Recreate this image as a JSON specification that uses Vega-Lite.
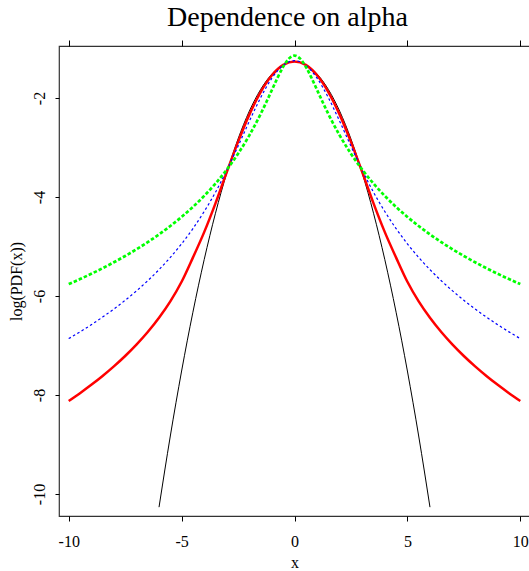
{
 "$schema": "https://vega.github.io/schema/vega-lite/v6.json",
 "width": 471, "height": 470,
 "autosize": {"type": "none"},
 "padding": {"left": 59, "top": 46, "right": 0, "bottom": 55},
 "background": "white",
 "config": {"view": {"stroke": "#333", "strokeWidth": 1.2}, "font": "Liberation Serif"},
 "title": {"text": "Dependence on alpha", "font": "Liberation Serif", "fontSize": 28, "fontWeight": "normal", "color": "black", "anchor": "middle", "dx": -7, "dy": 28, "offset": 14, "baseline": "alphabetic"},
 "data": {"values": [
  {"alpha":"2","x":-6,"y":-10.2655},{"alpha":"2","x":-5.5,"y":-8.828},{"alpha":"2","x":-5,"y":-7.5155},{"alpha":"2","x":-4.5,"y":-6.328},{"alpha":"2","x":-4,"y":-5.2655},{"alpha":"2","x":-3.5,"y":-4.328},{"alpha":"2","x":-3,"y":-3.5155},{"alpha":"2","x":-2.5,"y":-2.828},{"alpha":"2","x":-2,"y":-2.2655},{"alpha":"2","x":-1.5,"y":-1.828},{"alpha":"2","x":-1,"y":-1.5155},{"alpha":"2","x":-0.5,"y":-1.328},{"alpha":"2","x":0,"y":-1.2655},{"alpha":"2","x":0.5,"y":-1.328},{"alpha":"2","x":1,"y":-1.5155},{"alpha":"2","x":1.5,"y":-1.828},{"alpha":"2","x":2,"y":-2.2655},{"alpha":"2","x":2.5,"y":-2.828},{"alpha":"2","x":3,"y":-3.5155},{"alpha":"2","x":3.5,"y":-4.328},{"alpha":"2","x":4,"y":-5.2655},{"alpha":"2","x":4.5,"y":-6.328},{"alpha":"2","x":5,"y":-7.5155},{"alpha":"2","x":5.5,"y":-8.828},{"alpha":"2","x":6,"y":-10.2655},

  {"alpha":"1.8","x":-10,"y":-8.1197},{"alpha":"1.8","x":-9.5,"y":-7.9623},{"alpha":"1.8","x":-9,"y":-7.7946},{"alpha":"1.8","x":-8.5,"y":-7.6152},{"alpha":"1.8","x":-8,"y":-7.4218},{"alpha":"1.8","x":-7.5,"y":-7.2121},{"alpha":"1.8","x":-7,"y":-6.9824},{"alpha":"1.8","x":-6.5,"y":-6.7277},{"alpha":"1.8","x":-6,"y":-6.4399},{"alpha":"1.8","x":-5.5,"y":-6.1093},{"alpha":"1.8","x":-5,"y":-5.713},{"alpha":"1.8","x":-4.5,"y":-5.225},{"alpha":"1.8","x":-4,"y":-4.71},{"alpha":"1.8","x":-3.5,"y":-4.1286},{"alpha":"1.8","x":-3,"y":-3.498},{"alpha":"1.8","x":-2.5,"y":-2.8864},{"alpha":"1.8","x":-2,"y":-2.3361},{"alpha":"1.8","x":-1.5,"y":-1.8801},{"alpha":"1.8","x":-1,"y":-1.5408},{"alpha":"1.8","x":-0.5,"y":-1.3324},{"alpha":"1.8","x":0,"y":-1.2621},{"alpha":"1.8","x":0.5,"y":-1.3324},{"alpha":"1.8","x":1,"y":-1.5408},{"alpha":"1.8","x":1.5,"y":-1.8801},{"alpha":"1.8","x":2,"y":-2.3361},{"alpha":"1.8","x":2.5,"y":-2.8864},{"alpha":"1.8","x":3,"y":-3.498},{"alpha":"1.8","x":3.5,"y":-4.1286},{"alpha":"1.8","x":4,"y":-4.71},{"alpha":"1.8","x":4.5,"y":-5.225},{"alpha":"1.8","x":5,"y":-5.713},{"alpha":"1.8","x":5.5,"y":-6.1093},{"alpha":"1.8","x":6,"y":-6.4399},{"alpha":"1.8","x":6.5,"y":-6.7277},{"alpha":"1.8","x":7,"y":-6.9824},{"alpha":"1.8","x":7.5,"y":-7.2121},{"alpha":"1.8","x":8,"y":-7.4218},{"alpha":"1.8","x":8.5,"y":-7.6152},{"alpha":"1.8","x":9,"y":-7.7946},{"alpha":"1.8","x":9.5,"y":-7.9623},{"alpha":"1.8","x":10,"y":-8.1197},

  {"alpha":"1.5","x":-10,"y":-6.8611},{"alpha":"1.5","x":-9.5,"y":-6.7246},{"alpha":"1.5","x":-9,"y":-6.5801},{"alpha":"1.5","x":-8.5,"y":-6.4264},{"alpha":"1.5","x":-8,"y":-6.2625},{"alpha":"1.5","x":-7.5,"y":-6.0867},{"alpha":"1.5","x":-7,"y":-5.8971},{"alpha":"1.5","x":-6.5,"y":-5.6915},{"alpha":"1.5","x":-6,"y":-5.4672},{"alpha":"1.5","x":-5.5,"y":-5.2201},{"alpha":"1.5","x":-5,"y":-4.9461},{"alpha":"1.5","x":-4.5,"y":-4.6395},{"alpha":"1.5","x":-4,"y":-4.2925},{"alpha":"1.5","x":-3.5,"y":-3.905},{"alpha":"1.5","x":-3,"y":-3.4563},{"alpha":"1.5","x":-2.5,"y":-2.9729},{"alpha":"1.5","x":-2,"y":-2.4703},{"alpha":"1.5","x":-1.5,"y":-1.9941},{"alpha":"1.5","x":-1,"y":-1.5992},{"alpha":"1.5","x":-0.5,"y":-1.3383},{"alpha":"1.5","x":0,"y":-1.247},{"alpha":"1.5","x":0.5,"y":-1.3383},{"alpha":"1.5","x":1,"y":-1.5992},{"alpha":"1.5","x":1.5,"y":-1.9941},{"alpha":"1.5","x":2,"y":-2.4703},{"alpha":"1.5","x":2.5,"y":-2.9729},{"alpha":"1.5","x":3,"y":-3.4563},{"alpha":"1.5","x":3.5,"y":-3.905},{"alpha":"1.5","x":4,"y":-4.2925},{"alpha":"1.5","x":4.5,"y":-4.6395},{"alpha":"1.5","x":5,"y":-4.9461},{"alpha":"1.5","x":5.5,"y":-5.2201},{"alpha":"1.5","x":6,"y":-5.4672},{"alpha":"1.5","x":6.5,"y":-5.6915},{"alpha":"1.5","x":7,"y":-5.8971},{"alpha":"1.5","x":7.5,"y":-6.0867},{"alpha":"1.5","x":8,"y":-6.2625},{"alpha":"1.5","x":8.5,"y":-6.4264},{"alpha":"1.5","x":9,"y":-6.5801},{"alpha":"1.5","x":9.5,"y":-6.7246},{"alpha":"1.5","x":10,"y":-6.8611},

  {"alpha":"1","x":-10,"y":-5.7598},{"alpha":"1","x":-9.5,"y":-5.6583},{"alpha":"1","x":-9,"y":-5.5514},{"alpha":"1","x":-8.5,"y":-5.4386},{"alpha":"1","x":-8,"y":-5.3191},{"alpha":"1","x":-7.5,"y":-5.1921},{"alpha":"1","x":-7,"y":-5.0567},{"alpha":"1","x":-6.5,"y":-4.9117},{"alpha":"1","x":-6,"y":-4.7556},{"alpha":"1","x":-5.5,"y":-4.5867},{"alpha":"1","x":-5,"y":-4.4028},{"alpha":"1","x":-4.5,"y":-4.2011},{"alpha":"1","x":-4,"y":-3.9779},{"alpha":"1","x":-3.5,"y":-3.7287},{"alpha":"1","x":-3,"y":-3.4473},{"alpha":"1","x":-2.5,"y":-3.1257},{"alpha":"1","x":-2,"y":-2.7541},{"alpha":"1","x":-1.5,"y":-2.3234},{"alpha":"1","x":-1.25,"y":-2.0857},{"alpha":"1","x":-1,"y":-1.8379},{"alpha":"1","x":-0.75,"y":-1.591},{"alpha":"1","x":-0.5,"y":-1.3679},{"alpha":"1","x":-0.25,"y":-1.2053},{"alpha":"1","x":0,"y":-1.1447},{"alpha":"1","x":0.25,"y":-1.2053},{"alpha":"1","x":0.5,"y":-1.3679},{"alpha":"1","x":0.75,"y":-1.591},{"alpha":"1","x":1,"y":-1.8379},{"alpha":"1","x":1.25,"y":-2.0857},{"alpha":"1","x":1.5,"y":-2.3234},{"alpha":"1","x":2,"y":-2.7541},{"alpha":"1","x":2.5,"y":-3.1257},{"alpha":"1","x":3,"y":-3.4473},{"alpha":"1","x":3.5,"y":-3.7287},{"alpha":"1","x":4,"y":-3.9779},{"alpha":"1","x":4.5,"y":-4.2011},{"alpha":"1","x":5,"y":-4.4028},{"alpha":"1","x":5.5,"y":-4.5867},{"alpha":"1","x":6,"y":-4.7556},{"alpha":"1","x":6.5,"y":-4.9117},{"alpha":"1","x":7,"y":-5.0567},{"alpha":"1","x":7.5,"y":-5.1921},{"alpha":"1","x":8,"y":-5.3191},{"alpha":"1","x":8.5,"y":-5.4386},{"alpha":"1","x":9,"y":-5.5514},{"alpha":"1","x":9.5,"y":-5.6583},{"alpha":"1","x":10,"y":-5.7598}
 ]},
 "resolve": {"axis": {"x": "independent"}},
 "layer": [
  {
   "transform": [{"filter": "datum.alpha == '2'"}],
   "mark": {"type": "line", "color": "black", "strokeWidth": 1, "interpolate": "monotone"},
   "encoding": {
    "x": {"field": "x", "type": "quantitative", "scale": {"domain": [-10.43, 10.43], "nice": false, "zero": false},
          "axis": {"orient": "bottom", "values": [-10, -5, 0, 5, 10], "grid": false, "domain": false, "tickSize": 5, "tickColor": "black", "labelExpr": "datum.value + ''", "labelFont": "Liberation Serif", "labelFontSize": 16, "labelColor": "black", "labelPadding": 12, "labelFlush": false, "title": "x", "titleFont": "Liberation Serif", "titleFontSize": 16, "titleFontWeight": "normal", "titleColor": "black", "titlePadding": 5}},
    "y": {"field": "y", "type": "quantitative", "scale": {"domain": [-10.444, -0.95], "nice": false, "zero": false},
          "axis": {"orient": "left", "values": [-10, -8, -6, -4, -2], "grid": false, "domain": false, "tickSize": 4, "tickColor": "black", "labelExpr": "datum.value + ''", "labelAngle": 270, "labelAlign": "center", "labelBaseline": "bottom", "labelFont": "Liberation Serif", "labelFontSize": 16, "labelColor": "black", "labelPadding": 8, "title": "log(PDF(x))", "titleFont": "Liberation Serif", "titleFontSize": 16, "titleFontWeight": "normal", "titleColor": "black", "titlePadding": 7}}
   }
  },
  {
   "transform": [{"filter": "datum.alpha == '1.8'"}],
   "mark": {"type": "line", "color": "#ff0000", "strokeWidth": 2.5, "interpolate": "monotone"},
   "encoding": {
    "x": {"field": "x", "type": "quantitative", "axis": null},
    "y": {"field": "y", "type": "quantitative"}
   }
  },
  {
   "transform": [{"filter": "datum.alpha == '1.5'"}],
   "mark": {"type": "line", "color": "#0000ff", "strokeWidth": 1.2, "strokeDash": [2.5, 2.5], "interpolate": "monotone"},
   "encoding": {
    "x": {"field": "x", "type": "quantitative", "axis": null},
    "y": {"field": "y", "type": "quantitative"}
   }
  },
  {
   "transform": [{"filter": "datum.alpha == '1'"}],
   "mark": {"type": "line", "color": "#00ff00", "strokeWidth": 2.7, "strokeDash": [3.5, 2], "interpolate": "monotone"},
   "encoding": {
    "x": {"field": "x", "type": "quantitative",
          "axis": {"orient": "top", "values": [-10, -5, 0, 5, 10], "grid": false, "domain": false, "labels": false, "tickSize": 6, "tickColor": "black", "title": null}},
    "y": {"field": "y", "type": "quantitative"}
   }
  }
 ]
}
